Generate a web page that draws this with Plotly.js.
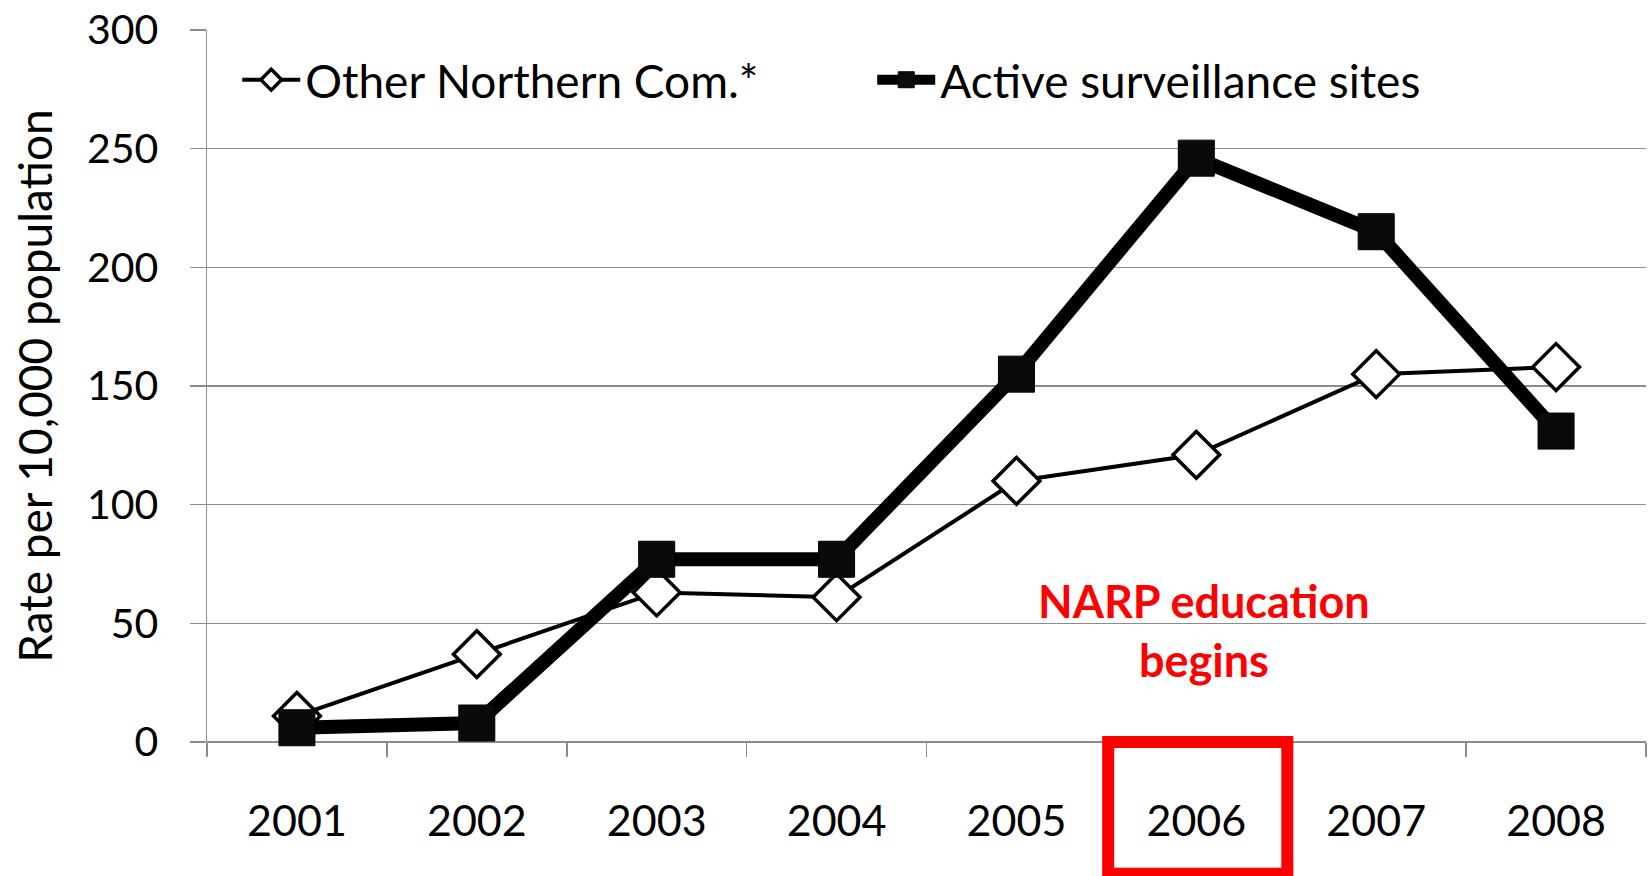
<!DOCTYPE html>
<html>
<head>
<meta charset="utf-8">
<script src="https://cdn.plot.ly/plotly-3.0.1.min.js"></script>
<style>
  html, body { margin: 0; padding: 0; background: #ffffff; }
  #chart { width: 1651px; height: 876px; }
</style>
</head>
<body>
<div id="chart"></div>
<script>
// ---- data ----
const years = ["2001", "2002", "2003", "2004", "2005", "2006", "2007", "2008"];
const otherNorthern = [11, 37, 63, 61, 110, 121, 155, 158];
const activeSites = [6, 8, 77, 77, 155, 246, 215, 131];
const seriesNames = ["Other Northern Com.*", "Active surveillance sites"];
const yTicks = [0, 50, 100, 150, 200, 250, 300];
const yAxisTitle = "Rate per 10,000 population";
const noteLines = ["NARP education", "begins"];
const noteYear = "2006";
const noteValue = 47;

const FONT = "Lato, 'Open Sans', 'DejaVu Sans', sans-serif";
const GRID = "#8c8c8c";

const traces = [
  {
    type: "scatter",
    mode: "lines+markers",
    name: seriesNames[0],
    x: years,
    y: otherNorthern,
    line: { color: "#000000", width: 4 },
    marker: { symbol: "diamond", size: 36, color: "#ffffff", line: { color: "#000000", width: 3.5 } },
    cliponaxis: false
  },
  {
    type: "scatter",
    mode: "lines+markers",
    name: seriesNames[1],
    x: years,
    y: activeSites,
    line: { color: "#000000", width: 14 },
    marker: { symbol: "square", size: 36, color: "#0a0a0a", line: { color: "#000000", width: 1 } },
    cliponaxis: false
  }
];

const layout = {
  width: 1651,
  height: 876,
  paper_bgcolor: "#ffffff",
  plot_bgcolor: "#ffffff",
  margin: { l: 207, r: 5, t: 29.5, b: 134, autoexpand: false },
  font: { family: FONT, color: "#000000", size: 40 },
  showlegend: true,
  legend: {
    orientation: "h",
    x: 0.021, xanchor: "left",
    y: 0.93, yanchor: "middle",
    bgcolor: "rgba(0,0,0,0)",
    font: { family: FONT, size: 46, color: "#000000" },
    itemwidth: 58,
    entrywidth: 562,
    traceorder: "normal"
  },
  xaxis: {
    type: "category",
    categoryorder: "array",
    categoryarray: years,
    range: [-0.5, 7.5],
    tickson: "boundaries",
    ticks: "outside",
    ticklen: 14,
    tickwidth: 1.5,
    tickcolor: GRID,
    showline: false,
    showgrid: false,
    zeroline: false,
    ticklabelstandoff: 50,
    tickfont: { family: FONT, size: 43, color: "#000000" },
    fixedrange: true
  },
  yaxis: {
    range: [0, 300],
    tickvals: yTicks,
    ticktext: yTicks.map(String),
    ticks: "outside",
    ticklen: 16,
    tickwidth: 1.5,
    tickcolor: GRID,
    showgrid: true,
    gridcolor: GRID,
    gridwidth: 1.5,
    showline: true,
    linecolor: GRID,
    linewidth: 1.5,
    zeroline: true,
    zerolinecolor: GRID,
    zerolinewidth: 1.5,
    ticklabelstandoff: 23,
    tickfont: { family: FONT, size: 41, color: "#000000" },
    title: { text: yAxisTitle, font: { family: FONT, size: 46, color: "#000000" }, standoff: 20 },
    automargin: false,
    fixedrange: true
  },
  annotations: [
    {
      x: years.indexOf(noteYear),
      y: noteValue,
      xref: "x",
      yref: "y",
      xshift: 8,
      text: noteLines.map(s => "<b>" + s + "</b>").join("<br>"),
      showarrow: false,
      font: { family: FONT, size: 45, color: "#ff0000" },
      align: "center"
    }
  ],
  shapes: [
    {
      type: "rect",
      xref: "x",
      yref: "paper",
      x0: 4.51, x1: 5.506,
      y0: -0.185, y1: 0.0,
      line: { color: "#ff0000", width: 12 },
      fillcolor: "rgba(0,0,0,0)",
      layer: "above"
    }
  ]
};

Plotly.newPlot("chart", traces, layout, { displayModeBar: false, staticPlot: true });
</script>
</body>
</html>
